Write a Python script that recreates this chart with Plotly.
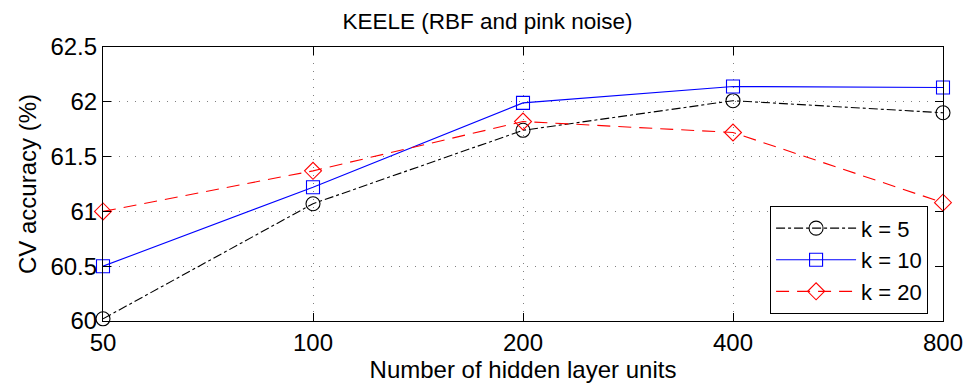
import plotly.graph_objects as go

units = ["50", "100", "200", "400", "800"]
k5 = [60.02, 61.07, 61.74, 62.01, 61.90]
k10 = [60.50, 61.22, 61.99, 62.14, 62.13]
k20 = [61.00, 61.37, 61.82, 61.72, 61.08]
y_ticks = [60, 60.5, 61, 61.5, 62, 62.5]
y_labels = ["60", "60.5", "61", "61.5", "62", "62.5"]

FONT = "Liberation Sans, Arial, Helvetica, sans-serif"

fig = go.Figure()
fig.add_trace(go.Scatter(x=units, y=k5, name="k = 5", mode="lines+markers", cliponaxis=False,
                         line=dict(color="black", width=1.1, dash="dashdot"),
                         marker=dict(symbol="circle-open", size=14, color="black", line=dict(width=1.1))))
fig.add_trace(go.Scatter(x=units, y=k10, name="k = 10", mode="lines+markers", cliponaxis=False,
                         line=dict(color="#0000ff", width=1.1),
                         marker=dict(symbol="square-open", size=13, color="#0000ff", line=dict(width=1.1))))
fig.add_trace(go.Scatter(x=units, y=k20, name="k = 20", mode="lines+markers", cliponaxis=False,
                         line=dict(color="#ff0000", width=1.1, dash="13px,8px"),
                         marker=dict(symbol="diamond-open", size=13, color="#ff0000", line=dict(width=1.1))))

fig.update_layout(
    width=975, height=387,
    margin=dict(l=103, r=22, t=47, b=63),
    paper_bgcolor="white", plot_bgcolor="white",
    font=dict(family=FONT, size=24, color="black"),
    title=dict(text="KEELE (RBF and pink noise)", x=0.5, xanchor="center",
               yref="container", y=1 - 21 / 387, yanchor="middle",
               font=dict(family=FONT, size=22.5)),
    legend=dict(x=0.982, y=0.025, xanchor="right", yanchor="bottom",
                bgcolor="white", bordercolor="black", borderwidth=1.2,
                font=dict(family=FONT, size=22), itemwidth=80, tracegroupgap=0),
    showlegend=True,
)
fig.update_xaxes(type="category", categoryorder="array", categoryarray=units,
                 range=[0, 4], showline=True, linecolor="black", linewidth=1.2, mirror="allticks",
                 ticks="inside", ticklen=8, tickcolor="black",
                 showgrid=True, gridcolor="#808080", griddash="1px,7px", gridwidth=1,
                 tickfont=dict(size=24),
                 title=dict(text="Number of hidden layer units", font=dict(size=24), standoff=2))
fig.update_yaxes(range=[60, 62.5], tickvals=y_ticks, ticktext=y_labels,
                 showline=True, linecolor="black", linewidth=1.2, mirror="allticks",
                 ticks="inside", ticklen=8, tickcolor="black",
                 showgrid=True, gridcolor="#808080", griddash="1px,7px", gridwidth=1,
                 zeroline=False, tickfont=dict(size=24),
                 title=dict(text="CV accuracy (%)", font=dict(size=24), standoff=6))

fig.write_html("out.html")
